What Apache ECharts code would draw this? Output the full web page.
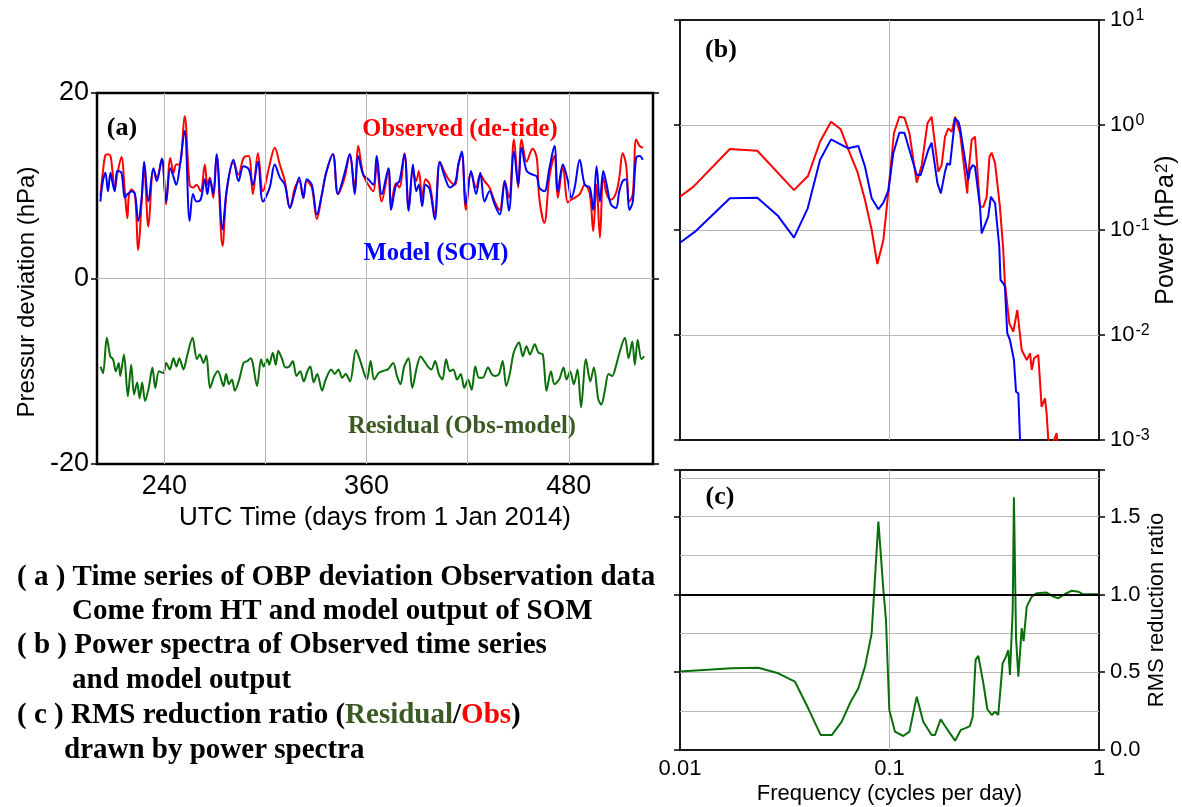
<!DOCTYPE html>
<html><head><meta charset="utf-8">
<script src="https://cdn.jsdelivr.net/npm/echarts@6/dist/echarts.min.js"></script>
<style>html,body{margin:0;padding:0;background:#fff}#c{width:1182px;height:807px}</style>
</head><body><div id="c"></div>
<script>
// ---------- Panel (a): time series (days from 1 Jan 2014, hPa) ----------
const obsDays = [202,203.5,205,206.5,208,209,210.5,212,214.5,216.5,
218,219,220.5,222.5,224.5,226.5,228,230.5,233.5,235.5,
238.5,241,243.5,245.5,247,249,252,255,257,259,
261.5,264,265.5,267,269,271,274.5,277,281,284,
287,290,292.5,295.5,298.5,302.5,305.5,308.5,311.5,314.5,
317.5,320,322.5,324.5,327.5,330.5,333.5,336,340,343,
347,350,353,355,358,361,364,366,369,373,
374.5,377.5,379.5,382.5,385,387.5,389.5,391,393,395,
397.5,400.5,403.5,406.5,409.5,412.5,414.5,416.5,419,422,
425,427.5,430,433,436,439,442,444.5,447.5,450,
452,455,458.5,461,462.5,465.5,468.5,471.5,473.5,476.5,
479.5,481.5,483.5,486.5,489.5,492.5,494.5,496.5,498.5,500.5,
502.5,505,508,510,512,514,516,518,520,522,
524];
const obsVals = [8.9,11.5,13.3,13.4,13.2,11.9,9.6,11.2,13.1,9.4,
6.5,9.1,9.6,9.1,3.1,8.3,11.9,5.6,11.8,10.9,
12.9,8.0,13.0,11.4,12.3,12.3,17.5,10.1,9.8,10.1,
9.4,12.3,10.1,10.9,8.7,13.2,3.5,9.4,12.5,11.2,
13.0,13.2,9.1,13.5,9.4,12.3,14.1,12.3,10.5,7.6,
9.8,10.5,8.7,10.5,9.8,6.4,9.1,11.4,13.4,9.1,
10.9,13.4,9.8,14.3,11.2,10.1,9.4,12.3,8.3,11.6,
8.0,10.3,9.8,13.5,7.6,11.6,10.5,11.6,8.7,10.7,
10.1,6.9,12.6,11.4,10.5,10.1,12.3,13.4,7.4,11.4,
9.8,11.2,10.5,9.8,8.3,7.4,10.5,8.7,15.0,9.8,
15.0,12.6,14.0,13.0,8.7,6.0,10.9,13.2,8.7,12.1,
8.2,8.5,8.7,9.1,10.1,9.1,5.1,10.1,4.4,10.9,
9.1,8.5,9.2,10.9,13.5,12.3,8.3,9.1,15.0,14.3,
14.1];
const modelVals = [8.3,10.5,11.4,9.4,11.4,10.5,9.4,11.6,11.4,8.7,
9.1,9.2,9.4,9.1,6.2,8.7,12.6,8.3,11.9,10.5,
12.9,8.3,11.9,10.9,10.1,11.9,15.9,6.2,9.1,8.3,
8.5,10.7,9.1,10.7,9.1,13.4,5.3,9.6,12.8,10.5,
12.1,11.8,10.1,12.6,8.3,9.8,12.3,10.9,10.1,7.6,
9.4,10.9,8.7,10.7,10.1,6.9,9.1,11.4,13.4,9.1,
11.4,13.4,9.1,13.2,11.2,10.7,10.1,13.2,9.1,11.9,
7.4,10.1,10.5,13.4,7.3,12.3,9.4,10.1,7.8,10.1,
9.6,6.4,12.6,10.9,9.8,10.3,12.3,13.7,8.0,11.6,
9.1,11.4,8.3,9.4,8.0,6.9,10.5,7.3,13.7,10.1,
14.1,11.6,11.2,11.0,9.8,9.4,11.9,14.3,9.4,12.3,
10.5,8.7,9.8,12.8,10.1,9.8,7.4,12.1,8.3,11.6,
10.1,8.0,7.6,9.4,10.5,10.7,7.4,8.3,13.0,13.2,
12.8];
const residDays = [202.1,203.6,205.8,207.9,209.5,211.2,212.9,213.8,216,218.3,
220.3,222,223.8,225.3,226.8,228.5,230.7,232.9,234.6,236.8,
239.4,241.1,243.2,245.4,247.1,248.9,251.3,253.4,256.7,259.3,
261,263.2,264.9,267.1,269.7,271.8,275.1,276.6,278.3,280.1,
281.8,284.4,287,289.2,291.3,292.4,295,297.4,298.9,301.1,
302.2,304.3,306.1,307.6,309.7,311.9,314.1,316.2,318.4,320.6,
322.7,324.9,326.6,328.6,330.7,333.6,335.7,339,341.1,343.3,
345.5,347.6,350.2,353.7,356.3,358.5,360.2,362.4,364.5,367.1,
369.3,372.6,375.8,378,380.1,382.3,384.9,387.1,389.9,392,
394.2,396.4,398.5,400.7,402.9,405,407.2,409.4,411.5,413.7,
415.9,418,420.2,422.4,424.5,426.7,428.9,432.1,434.3,436.4,
438.6,440.8,442.9,445.1,447.3,450.5,452.7,454.9,457,459.8,
462,464.6,466.8,469.4,471.5,474.3,476.9,478.7,480.8,483,
485.2,487.3,490.2,492.8,494.9,497.5,499.3,501.4,503.6,505.8,
507.9,510.1,513.3,515.5,517.7,519.2,520.9,523.1,524.8];
const residVals = [-9.5,-10.2,-6.4,-8.4,-8.7,-10.0,-9.1,-10.5,-8.2,-12.7,
-9.3,-12.5,-11.2,-12.9,-11.2,-13.2,-11.8,-9.6,-11.8,-10.0,
-10.2,-9.1,-9.8,-8.6,-9.5,-8.6,-9.8,-8.4,-6.4,-8.7,
-8.2,-9.1,-8.3,-11.8,-10.5,-10.0,-11.6,-10.3,-11.4,-10.9,
-12.1,-10.9,-9.1,-8.9,-8.6,-9.1,-11.6,-8.7,-9.5,-8.7,
-9.3,-8.0,-9.3,-7.8,-8.6,-9.6,-9.5,-8.9,-10.5,-10.0,
-11.1,-10.0,-9.5,-11.2,-10.3,-12.1,-10.9,-9.8,-10.3,-9.8,
-10.7,-10.3,-11.1,-7.7,-8.9,-10.2,-10.9,-8.9,-10.9,-10.2,
-10.0,-9.8,-9.1,-10.5,-11.4,-9.5,-8.6,-11.8,-9.5,-8.4,
-8.9,-9.5,-9.8,-8.9,-10.3,-10.9,-8.7,-10.0,-9.8,-10.9,
-10.3,-11.8,-10.9,-12.0,-9.5,-10.7,-10.7,-9.6,-10.3,-10.5,
-10.3,-8.9,-11.6,-10.2,-8.0,-6.9,-8.4,-7.3,-8.2,-7.1,
-8.0,-8.2,-12.1,-10.0,-11.4,-10.9,-9.6,-10.9,-10.0,-11.4,
-9.8,-13.9,-8.7,-11.1,-9.6,-13.0,-13.6,-12.1,-10.3,-10.5,
-9.5,-8.0,-6.4,-8.6,-6.8,-9.3,-6.6,-8.7,-8.4];
const dayGridTicks = [240,300,360,420,480];
const dayLabelTicks = [240,360,480];

// ---------- Panel (b): power spectra (cycles per day, hPa^2) ----------
const obsFreq = [0.0100,0.0116,0.0173,0.0234,0.0350,0.0409,0.0466,0.0526,0.0585,0.0647,
0.0702,0.0764,0.0822,0.0875,0.0935,0.0989,0.1050,0.1114,0.1178,0.1245,
0.1349,0.1426,0.1517,0.1589,0.1710,0.1774,0.1841,0.1910,0.1982,0.2056,
0.2173,0.2350,0.2377,0.2466,0.2559,0.2704,0.2805,0.2911,0.2999,0.3076,
0.3192,0.3365,0.3491,0.3556,0.3733,0.3899,0.4074,0.4276,0.4519,0.4688,
0.4775,0.4898,0.5129,0.5224,0.5321,0.5521,0.5623,0.5728,0.5900,0.6281,0.6400];
const obsPow = [0.2075,0.2588,0.590,0.569,0.240,0.329,0.693,1.076,0.910,0.537,
0.360,0.193,0.100,0.0474,0.0804,0.240,0.834,1.199,1.175,0.834,
0.2825,0.416,1.038,1.199,0.360,0.416,0.7745,0.929,0.863,1.199,
0.834,0.2234,0.334,0.719,0.7745,0.1667,0.1667,0.2075,0.499,0.5445,
0.4315,0.1667,0.0646,0.0311,0.0129,0.0108,0.0173,0.00719,0.00578,0.00668,
0.00465,0.00600,0.00646,0.00372,0.00207,0.00249,0.00179,0.00100,0.00085,0.00116,0.0007];
const modelFreq = [0.0100,0.0118,0.0173,0.0234,0.0294,0.0350,0.0407,0.0466,0.0526,0.0635,
0.0710,0.0764,0.0822,0.0885,0.0935,0.0989,0.1042,0.1114,0.1178,0.1245,
0.1349,0.1409,0.1531,0.1589,0.1694,0.1758,0.1841,0.1888,0.1945,0.2056,
0.2133,0.2173,0.2377,0.2421,0.2495,0.2559,0.2704,0.2754,0.2805,0.2958,
0.3048,0.3112,0.3192,0.3342,0.3388,0.3491,0.3556,0.3648,0.3758,0.3802,
0.3926,0.4018,0.4121,0.4198,0.4300];
const modelPow = [0.0757,0.0964,0.2004,0.2032,0.1358,0.0845,0.1607,0.4645,0.7295,0.600,
0.631,0.401,0.2004,0.1574,0.182,0.2404,0.537,0.845,0.845,0.578,
0.334,0.334,0.578,0.679,0.278,0.2234,0.3597,0.4315,0.416,1.156,
1.076,0.929,0.299,0.372,0.416,0.40,0.1667,0.0929,0.0895,0.134,
0.2075,0.2153,0.1795,0.0693,0.0334,0.0311,0.0288,0.0104,0.00895,0.00929,
0.00578,0.00288,0.00278,0.00100,0.0007];

// ---------- Panel (c): RMS reduction ratio ----------
const ratioFreq = [0.0100,0.01766,0.02366,0.02944,0.03539,0.04093,0.04695,0.05302,0.05916,0.0647,
0.0710,0.0764,0.0822,0.0885,0.0935,0.0962,0.0998,0.1062,0.1164,0.1245,
0.1349,0.1449,0.1589,0.1648,0.1754,0.1841,0.1945,0.2056,0.2188,0.2291,
0.2421,0.2495,0.2576,0.2655,0.2805,0.2931,0.3076,0.3192,0.3304,0.3467,
0.3597,0.3690,0.3758,0.3873,0.3926,0.4018,0.4121,0.4276,0.4365,0.4519,
0.4775,0.5047,0.5623,0.6053,0.6397,0.6887,0.7413,0.7962,0.8414,1.0];
const ratioVals = [0.504,0.525,0.529,0.493,0.439,0.268,0.096,0.096,0.182,0.300,
0.397,0.536,0.750,1.468,1.029,0.836,0.257,0.118,0.090,0.118,
0.343,0.182,0.096,0.096,0.197,0.154,0.107,0.060,0.129,0.139,
0.154,0.214,0.579,0.605,0.429,0.262,0.225,0.246,0.225,0.557,
0.600,0.643,0.482,0.90,1.625,0.72,0.471,0.783,0.70,0.922,
0.986,1.008,1.012,0.986,0.976,1.003,1.024,1.018,1.001,1.001];
const ratioRefLevel = 1.0;

// ---------- texts ----------
const captionLines = [
  '( a ) Time series of OBP deviation Observation data',
  'Come from HT and model output of SOM',
  '( b ) Power spectra of Observed time series',
  'and model output',
  '( c ) RMS reduction ratio ({g|Residual}/{r|Obs})',
  'drawn by power spectra'
];

const SANS = "'Liberation Sans', Arial, Helvetica, sans-serif";
const SERIF = "'Liberation Serif', 'Times New Roman', serif";
const GRIDC = '#b8b8b8';
const RED = '#ff0000', BLUE = '#0000ff', GREEN = '#0a6e0a', TXTGREEN = '#3b5a23';
const zip = (xs, ys) => xs.map((x, i) => [x, ys[i]]);

const chart = echarts.init(document.getElementById('c'), null, {renderer: 'canvas'});

function txt(x, y, text, size, fill, align, extra, family, weight, rot) {
  const el = {
    type: 'text', x: x, y: y, silent: true, z: 100,
    style: Object.assign({
      text: text, fill: fill,
      fontFamily: family || SERIF, fontWeight: weight || 'bold', fontSize: size,
      align: align || 'center', textAlign: align || 'center',
      verticalAlign: 'middle', textVerticalAlign: 'middle'
    }, extra || {})
  };
  if (rot) el.rotation = rot;
  return el;
}
const capX = [17, 72, 17, 72, 17, 64];
const capY = [578, 612, 646, 681, 716, 751];
const capRich = {
  g: {fill: TXTGREEN, color: TXTGREEN, fontFamily: SERIF, fontWeight: 'bold', fontSize: 29},
  r: {fill: RED, color: RED, fontFamily: SERIF, fontWeight: 'bold', fontSize: 29}
};
const graphics = [
  txt(122, 128, '(a)', 26, '#000'),
  txt(460, 130, 'Observed (de-tide)', 24.5, RED),
  txt(436, 254, 'Model (SOM)', 24.5, BLUE),
  txt(462, 427, 'Residual (Obs-model)', 24.5, TXTGREEN),
  txt(721, 50, '(b)', 26, '#000'),
  txt(720, 497, '(c)', 26, '#000'),
  txt(27, 292, 'Pressur deviation (hPa)', 24, '#000', 'center', null, SANS, 'normal', Math.PI / 2)
].concat(captionLines.map((t, i) => txt(capX[i], capY[i], t, 29, '#000', 'left', {rich: capRich})));

const tickStyle = {show: true, inside: false, length: 6, lineStyle: {color: '#000', width: 1.5}};
const noLine = {show: false};
const split = {show: true, showMinLine: false, showMaxLine: false, lineStyle: {color: GRIDC, width: 1}};

const option = {
  animation: false,
  backgroundColor: '#fff',
  grid: [
    {left: 97, top: 93, width: 556, height: 371, show: true, borderColor: '#000', borderWidth: 2.5, backgroundColor: 'transparent'},
    {left: 680, top: 20, width: 419, height: 420, show: true, borderColor: '#1a1a1a', borderWidth: 2, backgroundColor: 'transparent'},
    {left: 680, top: 470, width: 419, height: 280, show: true, borderColor: '#1a1a1a', borderWidth: 2, backgroundColor: 'transparent'}
  ],
  xAxis: [
    {gridIndex: 0, type: 'value', min: 200, max: 530, interval: 40,
     axisLine: noLine, axisTick: {show: false}, splitLine: {show: false},
     axisLabel: {fontSize: 27, fontFamily: SANS, color: '#000', margin: 9,
       formatter: v => dayLabelTicks.indexOf(v) >= 0 ? String(v) : ''},
     name: 'UTC Time (days from 1 Jan 2014)', nameLocation: 'middle', nameGap: 41,
     nameTextStyle: {fontSize: 26, fontFamily: SANS, color: '#000'}},
    {gridIndex: 1, type: 'log', logBase: 10, min: 0.01, max: 1,
     axisLine: noLine, axisTick: {show: false}, axisLabel: {show: false}, splitLine: split},
    {gridIndex: 2, type: 'log', logBase: 10, min: 0.01, max: 1,
     axisLine: noLine, axisTick: {show: false},
     axisLabel: {fontSize: 22, fontFamily: SANS, color: '#000', margin: 8,
       formatter: v => String(+(+v).toPrecision(1))},
     splitLine: split,
     name: 'Frequency (cycles per day)', nameLocation: 'middle', nameGap: 33,
     nameTextStyle: {fontSize: 22, fontFamily: SANS, color: '#000'}}
  ],
  yAxis: [
    {gridIndex: 0, type: 'value', min: -20, max: 20, interval: 20, position: 'left',
     axisLine: noLine, axisTick: tickStyle,
     axisLabel: {fontSize: 27, fontFamily: SANS, color: '#000', margin: 8},
     splitLine: split},
    {gridIndex: 0, type: 'value', min: -20, max: 20, interval: 20, position: 'right',
     axisLine: noLine, axisTick: tickStyle, axisLabel: {show: false}, splitLine: {show: false}},
    {gridIndex: 1, type: 'log', logBase: 10, min: 0.001, max: 10, position: 'left',
     axisLine: noLine, axisTick: tickStyle, axisLabel: {show: false}, splitLine: split},
    {gridIndex: 1, type: 'log', logBase: 10, min: 0.001, max: 10, position: 'right',
     axisLine: noLine, axisTick: tickStyle, splitLine: {show: false},
     axisLabel: {margin: 11, color: '#000',
       formatter: v => '{b|10}{s|' + Math.round(Math.log10(v)) + '}',
       rich: {b: {fontSize: 22, fontFamily: SANS, color: '#000'},
              s: {fontSize: 16, fontFamily: SANS, color: '#000', verticalAlign: 'top', padding: [0, 0, 8, 1]}}},
     name: 'Power (hPa{s|2})', nameLocation: 'middle', nameGap: 54,
     nameTextStyle: {fontSize: 25, fontFamily: SANS, color: '#000',
       rich: {s: {fontSize: 17, fontFamily: SANS, color: '#000', verticalAlign: 'top', padding: [0, 0, 8, 1]}}}},
    {gridIndex: 2, type: 'value', min: 0, max: 1.8, interval: 0.5, position: 'left',
     axisLine: noLine, axisTick: tickStyle, axisLabel: {show: false}, splitLine: {show: false}},
    {gridIndex: 2, type: 'value', min: 0, max: 1.8, interval: 0.5, position: 'right',
     axisLine: noLine, axisTick: tickStyle, splitLine: {show: false},
     axisLabel: {fontSize: 22, fontFamily: SANS, color: '#000', margin: 11,
       formatter: v => (Math.abs(v * 2 - Math.round(v * 2)) < 1e-6 ? (+v).toFixed(1) : '')},
     name: 'RMS reduction ratio', nameLocation: 'middle', nameGap: 47,
     nameTextStyle: {fontSize: 22, fontFamily: SANS, color: '#000'}},
    {gridIndex: 2, type: 'value', min: 0, max: 1.8, interval: 0.25, position: 'left', offset: 0,
     axisLine: noLine, axisTick: {show: false}, axisLabel: {show: false}, splitLine: split}
  ],
  series: [
    {type: 'line', xAxisIndex: 0, yAxisIndex: 0, data: [], silent: true, z: 1,
     markLine: {silent: true, symbol: ['none', 'none'], label: {show: false},
       lineStyle: {color: GRIDC, type: 'solid', width: 1},
       data: dayGridTicks.map(d => ({xAxis: d}))}},
    {name: 'Observed', type: 'line', xAxisIndex: 0, yAxisIndex: 0, data: zip(obsDays, obsVals),
     showSymbol: false, smooth: 0.35, lineStyle: {color: RED, width: 2}, itemStyle: {color: RED}, z: 3},
    {name: 'Model', type: 'line', xAxisIndex: 0, yAxisIndex: 0, data: zip(obsDays, modelVals),
     showSymbol: false, smooth: 0.35, lineStyle: {color: BLUE, width: 2}, itemStyle: {color: BLUE}, z: 4},
    {name: 'Residual', type: 'line', xAxisIndex: 0, yAxisIndex: 0, data: zip(residDays, residVals),
     showSymbol: false, smooth: 0.3, lineStyle: {color: GREEN, width: 2}, itemStyle: {color: GREEN}, z: 3},
    {name: 'ObsSpec', type: 'line', xAxisIndex: 1, yAxisIndex: 2, data: zip(obsFreq, obsPow),
     showSymbol: false, lineStyle: {color: RED, width: 2}, itemStyle: {color: RED}, z: 3},
    {name: 'ModelSpec', type: 'line', xAxisIndex: 1, yAxisIndex: 2, data: zip(modelFreq, modelPow),
     showSymbol: false, lineStyle: {color: BLUE, width: 2}, itemStyle: {color: BLUE}, z: 4},
    {type: 'line', xAxisIndex: 2, yAxisIndex: 4, data: [], silent: true, z: 2,
     markLine: {silent: true, symbol: ['none', 'none'], label: {show: false},
       lineStyle: {color: '#000', type: 'solid', width: 2},
       data: [{yAxis: ratioRefLevel}]}},
    {name: 'Ratio', type: 'line', xAxisIndex: 2, yAxisIndex: 4, data: zip(ratioFreq, ratioVals),
     showSymbol: false, lineStyle: {color: GREEN, width: 2}, itemStyle: {color: GREEN}, z: 3}
  ],
  graphic: graphics
};
chart.setOption(option);
</script>
</body></html>
